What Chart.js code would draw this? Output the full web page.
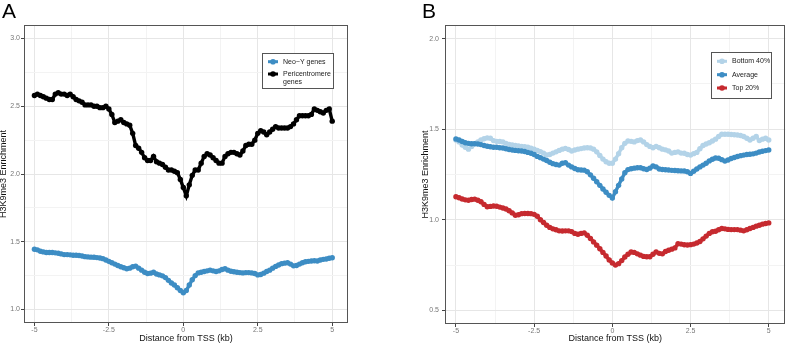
<!DOCTYPE html>
<html>
<head>
<meta charset="utf-8">
<script src="https://cdn.jsdelivr.net/npm/chart.js@4.4.1/dist/chart.umd.min.js"></script>
<style>
    body { margin: 0; background: #fff; }
    .wrap { position: relative; width: 788px; height: 344px; font-family: 'Liberation Sans', Arial, sans-serif; }
    .wrap canvas { position: absolute; top: 0; }
    #chartA { left: 0; }
    #chartB { left: 394px; }
    .panel-label { position: absolute; top: 0; font-size: 21px; line-height: 21px; color: #000; }
</style>
</head>
<body>
<div class="wrap">
    <canvas id="chartA" width="394" height="344"></canvas>
    <canvas id="chartB" width="394" height="344"></canvas>
    <div class="panel-label" style="left: 2px;">A</div>
    <div class="panel-label" style="left: 422px;">B</div>
</div>
<script>
// distance from TSS (kb)
const distance = [
    -5.0, -4.9, -4.8, -4.7, -4.6, -4.5, -4.4, -4.3, -4.2, -4.1,
    -4.0, -3.9, -3.8, -3.7, -3.6, -3.5, -3.4, -3.3, -3.2, -3.1,
    -3.0, -2.9, -2.8, -2.7, -2.6, -2.5, -2.4, -2.3, -2.2, -2.1,
    -2.0, -1.9, -1.8, -1.7, -1.6, -1.5, -1.4, -1.3, -1.2, -1.1,
    -1.0, -0.9, -0.8, -0.7, -0.6, -0.5, -0.4, -0.3, -0.2, -0.1,
    0.0, 0.1, 0.2, 0.3, 0.4, 0.5, 0.6, 0.7, 0.8, 0.9,
    1.0, 1.1, 1.2, 1.3, 1.4, 1.5, 1.6, 1.7, 1.8, 1.9,
    2.0, 2.1, 2.2, 2.3, 2.4, 2.5, 2.6, 2.7, 2.8, 2.9,
    3.0, 3.1, 3.2, 3.3, 3.4, 3.5, 3.6, 3.7, 3.8, 3.9,
    4.0, 4.1, 4.2, 4.3, 4.4, 4.5, 4.6, 4.7, 4.8, 4.9,
    5.0
];

// Panel A
const neoY = [
    1.445, 1.44, 1.43, 1.425, 1.42, 1.42, 1.42, 1.418, 1.415, 1.41,
    1.405, 1.405, 1.403, 1.40, 1.40, 1.398, 1.395, 1.39, 1.388, 1.386,
    1.385, 1.383, 1.38, 1.375, 1.365, 1.355, 1.345, 1.335, 1.325, 1.315,
    1.308, 1.30, 1.305, 1.315, 1.32, 1.305, 1.29, 1.275, 1.265, 1.268,
    1.275, 1.262, 1.255, 1.248, 1.235, 1.215, 1.195, 1.18, 1.16, 1.14,
    1.123, 1.14, 1.18, 1.22, 1.25, 1.27, 1.275, 1.28, 1.285, 1.29,
    1.285, 1.28, 1.285, 1.295, 1.30, 1.29, 1.282, 1.278, 1.275, 1.272,
    1.27, 1.272, 1.272, 1.27, 1.265, 1.255, 1.258, 1.268, 1.28, 1.29,
    1.305, 1.318, 1.328, 1.338, 1.342, 1.345, 1.335, 1.322, 1.325, 1.335,
    1.345, 1.352, 1.355, 1.358, 1.36, 1.358, 1.365, 1.37, 1.372, 1.378,
    1.382
];
const pericentromere = [
    2.58, 2.59, 2.58, 2.57, 2.56, 2.55, 2.55, 2.59, 2.60, 2.59,
    2.59, 2.58, 2.59, 2.57, 2.55, 2.54, 2.53, 2.51, 2.51, 2.51,
    2.50, 2.50, 2.49, 2.49, 2.50, 2.48, 2.44, 2.38, 2.39, 2.40,
    2.38, 2.37, 2.36, 2.30, 2.21, 2.19, 2.16, 2.12, 2.10, 2.10,
    2.13, 2.09, 2.08, 2.07, 2.05, 2.03, 2.03, 2.02, 2.01, 1.96,
    1.90, 1.84, 1.92, 1.99, 2.03, 2.03, 2.08, 2.13, 2.15, 2.14,
    2.12, 2.10, 2.08, 2.08, 2.13, 2.15, 2.16, 2.16, 2.15, 2.14,
    2.17, 2.21, 2.22, 2.22, 2.25, 2.30, 2.32, 2.31, 2.29, 2.31,
    2.33, 2.35, 2.34, 2.34, 2.34, 2.34, 2.35, 2.37, 2.40, 2.43,
    2.43, 2.43, 2.43, 2.44, 2.48, 2.47, 2.46, 2.45, 2.47, 2.48,
    2.39
];

// Panel B
const bottom40 = [
    1.44, 1.43, 1.413, 1.40, 1.39, 1.405, 1.42, 1.43, 1.44, 1.447,
    1.452, 1.45, 1.437, 1.433, 1.432, 1.43, 1.422, 1.416, 1.413, 1.41,
    1.408, 1.405, 1.403, 1.40, 1.395, 1.39, 1.383, 1.376, 1.368, 1.358,
    1.36, 1.368, 1.375, 1.383, 1.39, 1.394, 1.388, 1.38, 1.385, 1.39,
    1.393, 1.396, 1.398, 1.396, 1.39, 1.375, 1.355, 1.335, 1.32, 1.312,
    1.312, 1.335, 1.365, 1.398, 1.422, 1.435, 1.433, 1.43, 1.437, 1.44,
    1.43, 1.415, 1.405, 1.398, 1.405, 1.398, 1.39, 1.386, 1.38, 1.368,
    1.372, 1.375, 1.368, 1.367, 1.36, 1.357, 1.365, 1.372, 1.392, 1.41,
    1.418, 1.425, 1.435, 1.445, 1.46, 1.472, 1.472, 1.472, 1.471, 1.469,
    1.468, 1.465, 1.46, 1.45, 1.44, 1.45, 1.46, 1.437, 1.445, 1.45,
    1.44
];
const average = [
    1.446, 1.44, 1.432, 1.425, 1.422, 1.42, 1.42, 1.418, 1.415, 1.41,
    1.406, 1.403, 1.40, 1.40, 1.398, 1.396, 1.392, 1.388, 1.385, 1.383,
    1.381, 1.38, 1.377, 1.372, 1.367, 1.36, 1.35, 1.343, 1.335, 1.327,
    1.318, 1.31, 1.305, 1.302, 1.312, 1.315, 1.302, 1.292, 1.283, 1.276,
    1.275, 1.274, 1.265, 1.248, 1.229, 1.21, 1.19, 1.17, 1.152, 1.135,
    1.12, 1.155, 1.19, 1.225, 1.26, 1.277, 1.282, 1.285, 1.287, 1.287,
    1.282, 1.278, 1.285, 1.297, 1.292, 1.28, 1.278, 1.276, 1.275, 1.273,
    1.272, 1.271, 1.27, 1.269, 1.265, 1.256, 1.268, 1.28, 1.292, 1.302,
    1.312, 1.325, 1.334, 1.341, 1.34, 1.332, 1.324, 1.33, 1.338, 1.344,
    1.349, 1.354, 1.357, 1.36, 1.362, 1.364, 1.368, 1.374, 1.378, 1.382,
    1.385
];
const top20 = [
    1.127, 1.122, 1.115, 1.11, 1.108, 1.112, 1.114, 1.108, 1.10, 1.085,
    1.072, 1.074, 1.076, 1.075, 1.07, 1.065, 1.06, 1.05, 1.038, 1.025,
    1.028, 1.034, 1.035, 1.035, 1.034, 1.03, 1.02, 1.0, 0.985, 0.97,
    0.958, 0.95, 0.945, 0.939, 0.938, 0.939, 0.939, 0.935, 0.925, 0.92,
    0.925, 0.928, 0.915, 0.897, 0.878, 0.86, 0.84, 0.82, 0.80, 0.778,
    0.762, 0.75, 0.758, 0.775, 0.795, 0.81, 0.822, 0.82, 0.812, 0.805,
    0.798, 0.796, 0.796, 0.81, 0.823, 0.815, 0.812, 0.825, 0.832, 0.838,
    0.845, 0.868, 0.866, 0.862, 0.861, 0.863, 0.866, 0.872, 0.88, 0.895,
    0.91, 0.925, 0.934, 0.937, 0.945, 0.952, 0.95, 0.947, 0.946, 0.946,
    0.946, 0.943, 0.939, 0.945, 0.952, 0.958, 0.965, 0.97, 0.976, 0.98,
    0.983
];

// tick values
const xMajor = [-5, -2.5, 0, 2.5, 5];
const xMinor = [-3.75, -1.25, 1.25, 3.75];
const yMajorA = [1.0, 1.5, 2.0, 2.5, 3.0];
const yMinorA = [1.25, 1.75, 2.25, 2.75];
const yMajorB = [0.5, 1.0, 1.5, 2.0];
const yMinorB = [0.75, 1.25, 1.75];

const fontFamily = "'Liberation Sans', Arial, sans-serif";
const blue = '#3d8dc4';
const lightBlue = '#b3d3e8';
const red = '#c62a2f';

const toPoints = (values) => distance.map((x, i) => ({ x: x, y: values[i] }));

const makeScale = (major, minor, range, title, opts) => {
    const isMajor = (v) => major.some((m) => Math.abs(m - v) < 1e-9);
    return {
        type: 'linear',
        min: range[0],
        max: range[1],
        afterBuildTicks: (scale) => {
            scale.ticks = major.concat(minor).sort((a, b) => a - b).map((v) => ({ value: v }));
        },
        afterFit: (scale) => {
            if (opts.horizontal) {
                scale.height = opts.size;
            } else {
                scale.width = opts.size;
            }
        },
        border: { display: false },
        grid: {
            color: (c) => (c.tick && isMajor(c.tick.value)) ? '#e6e6e6' : '#f3f3f3',
            tickColor: (c) => (c.tick && isMajor(c.tick.value)) ? '#444' : 'rgba(0,0,0,0)',
            tickLength: 3,
            lineWidth: 1
        },
        ticks: {
            autoSkip: false,
            maxRotation: 0,
            padding: opts.tickPadding,
            color: '#777',
            font: { size: 7, family: fontFamily },
            callback: (v) => {
                if (!isMajor(v)) return '';
                return opts.decimals ? v.toFixed(1) : String(v);
            }
        },
        title: {
            display: true,
            text: title,
            color: '#111',
            font: { size: 9, family: fontFamily, lineHeight: 0.85 },
            padding: opts.titlePadding
        }
    };
};

// panel border + legend box inside the plot
const panelFrame = {
    id: 'panelFrame',
    afterDatasetsDraw(chart, args, opts) {
        const ctx = chart.ctx;
        const a = chart.chartArea;

        ctx.save();
        ctx.strokeStyle = '#555';
        ctx.lineWidth = 1;
        ctx.strokeRect(Math.round(a.left) + 0.5, Math.round(a.top) + 0.5,
            Math.round(a.right - a.left) - 1, Math.round(a.bottom - a.top) - 1);

        const box = opts.box;
        ctx.fillStyle = '#fff';
        ctx.fillRect(box[0], box[1], box[2], box[3]);
        ctx.strokeStyle = '#555';
        ctx.strokeRect(box[0] + 0.5, box[1] + 0.5, box[2], box[3]);

        ctx.font = '7px ' + fontFamily;
        ctx.textBaseline = 'middle';
        ctx.textAlign = 'left';

        opts.items.forEach((item, i) => {
            const ds = chart.data.datasets[item.dataset];
            const y = opts.rows[i];
            const kx = box[0] + 6;

            ctx.strokeStyle = ds.borderColor;
            ctx.lineWidth = 3;
            ctx.beginPath();
            ctx.moveTo(kx, y);
            ctx.lineTo(kx + 10, y);
            ctx.stroke();

            ctx.fillStyle = ds.borderColor;
            ctx.beginPath();
            ctx.arc(kx + 5, y, 2.8, 0, Math.PI * 2);
            ctx.fill();

            ctx.fillStyle = '#222';
            item.text.split('\n').forEach((line, j) => {
                ctx.fillText(line, box[0] + 21, y + j * 8.3);
            });
        });
        ctx.restore();
    }
};

const baseOptions = (padding, legend, scales) => ({
    responsive: false,
    animation: false,
    devicePixelRatio: 1,
    layout: { padding: padding },
    elements: {
        point: { radius: 2.7, borderWidth: 0, hoverRadius: 2.7 },
        line: { borderWidth: 3.4, tension: 0 }
    },
    plugins: {
        legend: { display: false },
        tooltip: { enabled: false },
        panelFrame: legend
    },
    scales: scales
});

const series = (label, values, color, order) => ({
    label: label,
    data: toPoints(values),
    borderColor: color,
    backgroundColor: color,
    pointBackgroundColor: color,
    order: order
});

// Panel A chart
new Chart(document.getElementById('chartA'), {
    type: 'line',
    data: {
        datasets: [
            series('Neo−Y genes', neoY, blue, 2),
            series('Pericentromere genes', pericentromere, '#000000', 1)
        ]
    },
    options: baseOptions(
        { left: 0, top: 25, right: 46, bottom: 0 },
        {
            box: [262, 53, 71, 35],
            rows: [61.7, 74],
            items: [
                { dataset: 0, text: 'Neo−Y genes' },
                { dataset: 1, text: 'Pericentromere\ngenes' }
            ]
        },
        {
            x: makeScale(xMajor, xMinor, [-5.35, 5.53], 'Distance from TSS (kb)',
                { horizontal: true, size: 21, tickPadding: 0, decimals: false, titlePadding: { top: 0, bottom: 1.5 } }),
            y: makeScale(yMajorA, yMinorA, [0.9, 3.1], 'H3K9me3 Enrichment',
                { horizontal: false, size: 24, tickPadding: 1, decimals: true, titlePadding: 0 })
        }
    ),
    plugins: [panelFrame]
});

// Panel B chart
new Chart(document.getElementById('chartB'), {
    type: 'line',
    data: {
        datasets: [
            series('Bottom 40%', bottom40, lightBlue, 3),
            series('Average', average, blue, 2),
            series('Top 20%', top20, red, 1)
        ]
    },
    options: baseOptions(
        { left: 28, top: 25, right: 1, bottom: 0 },
        {
            box: [317, 52, 60, 46],
            rows: [61.3, 74.7, 88],
            items: [
                { dataset: 0, text: 'Bottom 40%' },
                { dataset: 1, text: 'Average' },
                { dataset: 2, text: 'Top 20%' }
            ]
        },
        {
            x: makeScale(xMajor, xMinor, [-5.35, 5.53], 'Distance from TSS (kb)',
                { horizontal: true, size: 20, tickPadding: 0, decimals: false, titlePadding: { top: 0, bottom: 1.5 } }),
            y: makeScale(yMajorB, yMinorB, [0.425, 2.075], 'H3K9me3 Enrichment',
                { horizontal: false, size: 23, tickPadding: 3, decimals: true, titlePadding: 0 })
        }
    ),
    plugins: [panelFrame]
});
</script>
</body>
</html>
